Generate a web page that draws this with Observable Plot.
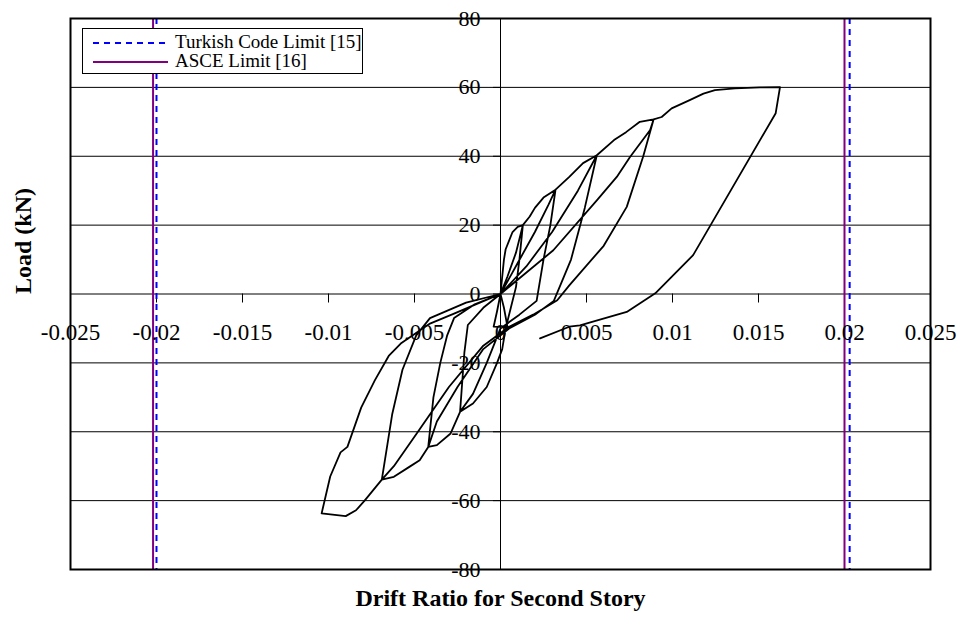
<!DOCTYPE html>
<html><head><meta charset="utf-8">
<script src="https://cdn.jsdelivr.net/npm/d3@7"></script>
<script src="https://cdn.jsdelivr.net/npm/@observablehq/plot@0.6"></script>
<style>
body{margin:0;background:#fff;}
#wrap{position:relative;width:966px;height:627px;font-family:"Liberation Serif","Times New Roman",serif;}
#wrap svg text{font-family:"Liberation Serif","Times New Roman",serif;}
#legend{position:absolute;left:82px;top:28px;width:281px;height:46px;background:#fff;border:1px solid #000;box-sizing:border-box;}
#legend svg{position:absolute;left:-1px;top:-1px;}
</style></head><body><div id="wrap"><div id="legend"></div></div>
<script>
// Data
const drift = [
  0, -0.0002, -0.0004, 0.0002, 0.0004, 0.0002, 0,
  0.0001, 0.0002, 0.0003, 0.0005, 0.0007, 0.001, 0.0013,
  0.0011, 0.0009, 0.0006, 0.0003, 0.0001, -0.0002, -0.0008, -0.0016, -0.00235,
  -0.0021, -0.0019, -0.001, 0,
  0.0004, 0.0009, 0.0013, 0.0017, 0.002, 0.0025, 0.0032,
  0.0029, 0.0025, 0.0021, 0.0011, 0, -0.0008, -0.0016, -0.00235, -0.0029, -0.0037, -0.0042,
  -0.0039, -0.0035, -0.0031, -0.0027, -0.0015, 0,
  0.001, 0.002, 0.0028, 0.0032, 0.004, 0.0048, 0.0056,
  0.0049, 0.0041, 0.0031, 0.002, 0.0005, -0.001, -0.0025, -0.0037, -0.0042, -0.0047, -0.0053, -0.0062, -0.0069,
  -0.0063, -0.0057, -0.0049, -0.0041, -0.002, 0,
  0.0015, 0.003, 0.0045, 0.0056, 0.0066, 0.0073, 0.0081, 0.0089,
  0.0083, 0.00734, 0.006, 0.004, 0.0033, 0.0019, 0.0005, -0.001, -0.003, -0.0048, -0.0062, -0.0069,
  -0.0079, -0.0084, -0.009, -0.0104,
  -0.0099, -0.0093, -0.0089, -0.0081, -0.0073, -0.0065, -0.0058, -0.0041, -0.0027, -0.0012, 0,
  0.00307, 0.0056, 0.00676, 0.00753, 0.0087, 0.0089,
  0.00937, 0.00995, 0.011, 0.0118, 0.01247, 0.01363, 0.01509, 0.01625,
  0.016, 0.0112, 0.009, 0.00734, 0.00462, 0.004, 0.0023
];
const load = [
  0, -5, -9.5, -9.6, -9.4, -4, 0,
  5, 10, 13, 15.5, 18, 19.5, 20,
  10, 2, -4, -10, -16, -20, -27, -31.8, -34.2,
  -17, -9, -4, 0,
  5, 12, 20, 22.5, 25, 28, 30.3,
  20, 10, -2, -6, -10, -20, -29, -34.2, -40.5, -43.9, -44.4,
  -30, -20, -12, -7, -3, 0,
  9, 18, 26, 30.3, 34, 38, 40.3,
  25, 10, -2, -6, -10, -16, -27, -37, -44.4, -48.3, -50.2, -53.1, -53.9,
  -35, -22, -12, -7, -2.5, 0,
  8, 18, 30, 40.3, 44.7, 47, 50, 50.7,
  40, 25.3, 14, 2.5, -1.8, -6, -9.5, -15, -27, -40, -50, -53.9,
  -60, -62.8, -64.5, -63.7,
  -53, -46, -44.4, -33, -25, -18, -14.4, -8.6, -5.7, -2.5, 0,
  12.7, 27.2, 34, 39.8, 47.6, 50.7,
  51.4, 53.9, 56.3, 58.2, 59.2, 59.7, 60, 60.1,
  52.5, 11.3, 0.2, -5.2, -9.1, -9.5, -12.9
];
const xTicks = [-0.025, -0.02, -0.015, -0.01, -0.005, 0, 0.005, 0.01, 0.015, 0.02, 0.025];
const xTickLabels = ["-0.025", "-0.02", "-0.015", "-0.01", "-0.005", "0", "0.005", "0.01", "0.015", "0.02", "0.025"];
const yTicks = [-80, -60, -40, -20, 0, 20, 40, 60, 80];
const yTickLabels = ["-80", "-60", "-40", "-20", "0", "20", "40", "60", "80"];
const turkishLimit = [-0.02, 0.0203];
const asceLimit = [-0.0202, 0.02];
const seriesNames = ["Turkish Code Limit [15]", "ASCE Limit [16]"];
const xTitle = "Drift Ratio for Second Story";
const yTitle = "Load (kN)";

const curve = drift.map((d, i) => ({drift: d, load: load[i]}));
const font = "'Liberation Serif', 'Times New Roman', serif";

const chart = Plot.plot({
  width: 966, height: 627,
  marginLeft: 70, marginRight: 36, marginTop: 18, marginBottom: 58,
  x: {domain: [-0.025, 0.025], axis: null},
  y: {domain: [-80, 80], axis: null},
  style: "background: white; color: black; font-family: 'Liberation Serif', 'Times New Roman', serif;",
  marks: [
    Plot.ruleY(yTicks, {stroke: "black", strokeWidth: 1}),
    Plot.ruleX([0], {stroke: "black", strokeWidth: 1}),
    Plot.ruleX(xTicks, {x: d => d, y1: 0, y2: 0, insetBottom: -9, stroke: "black"}),
    Plot.ruleY(yTicks, {y: d => d, x1: 0, x2: 0, insetLeft: -7, stroke: "black"}),
    Plot.ruleX(asceLimit, {stroke: "#800080", strokeWidth: 2}),
    Plot.ruleX(turkishLimit, {stroke: "#0000ff", strokeWidth: 2, strokeDasharray: "6,5"}),
    Plot.line(curve, {x: "drift", y: "load", stroke: "black", strokeWidth: 1.8, curve: "linear"}),
    Plot.text(xTicks, {x: d => d, y: 0, text: (d, i) => xTickLabels[i], dy: 39, fontSize: 23, fill: "black", fontFamily: font, ariaLabel: "xticklabels"}),
    Plot.text(yTicks, {x: 0, y: d => d, text: (d, i) => yTickLabels[i], textAnchor: "end", dx: -20, fontSize: 22, fill: "black", fontFamily: font, ariaLabel: "yticklabels"}),
    Plot.frame({stroke: "black", strokeWidth: 2}),
    Plot.text([xTitle], {frameAnchor: "bottom", dy: 36, fontSize: 24, fontWeight: "bold", fill: "black", fontFamily: font}),
    Plot.text([yTitle], {frameAnchor: "left", dx: -47, rotate: -90, fontSize: 24, fontWeight: "bold", fill: "black", fontFamily: font})
  ]
});
document.getElementById("wrap").insertBefore(chart, document.getElementById("legend"));

// Stretch tick labels vertically, like the reference rendering
function stretch(label, s) {
  d3.select(chart).selectAll(`g[aria-label="${label}"] text`).each(function () {
    const el = d3.select(this);
    const t = el.attr("transform");
    if (t) {
      el.attr("transform", t + ` scale(1,${s})`);
    } else {
      const x = +el.attr("x") || 0, y = +el.attr("y") || 0;
      el.attr("transform", `translate(${x},${y}) scale(1,${s}) translate(${-x},${-y})`);
    }
  });
}
stretch("xticklabels", 1.25);
stretch("yticklabels", 1.12);

// Legend
const lg = d3.select("#legend").append("svg").attr("width", 281).attr("height", 46);
lg.append("line").attr("x1", 11).attr("x2", 86).attr("y1", 15).attr("y2", 15)
  .attr("stroke", "#0000ff").attr("stroke-width", 2).attr("stroke-dasharray", "6,5");
lg.append("line").attr("x1", 11).attr("x2", 86).attr("y1", 34).attr("y2", 34)
  .attr("stroke", "#800080").attr("stroke-width", 2);
lg.append("text").attr("x", 93).attr("y", 20).attr("font-size", 19).attr("font-family", font).text(seriesNames[0]);
lg.append("text").attr("x", 93).attr("y", 39).attr("font-size", 19).attr("font-family", font).text(seriesNames[1]);
</script>
</body></html>
